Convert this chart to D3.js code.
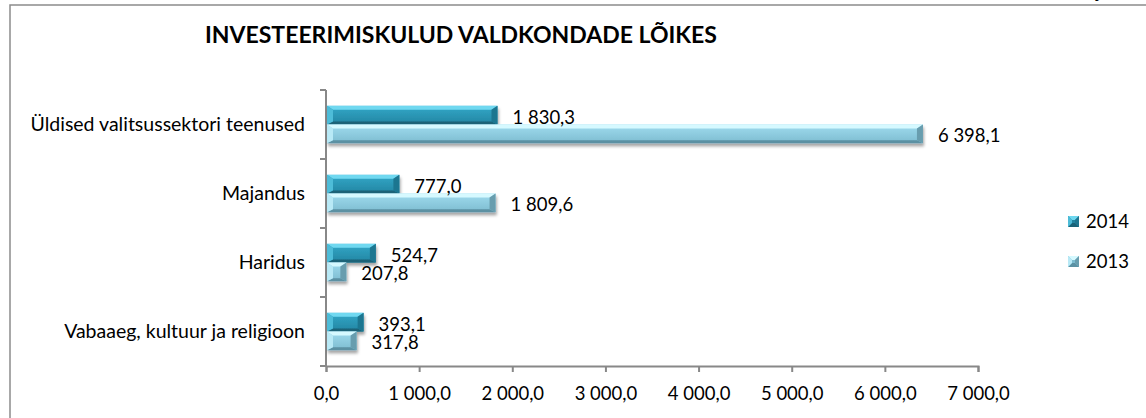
<!DOCTYPE html>
<html>
<head>
<meta charset="utf-8">
<script src="https://cdn.jsdelivr.net/npm/d3@7"></script>
<style>
  body { margin: 0; background: #fff; }
  text { font-family: Lato, "Open Sans", sans-serif; fill: #000; }
</style>
</head>
<body>
<div id="chart_area"></div>
<script>
// data
var categories = ["Üldised valitsussektori teenused", "Majandus", "Haridus", "Vabaaeg, kultuur ja religioon"];
var seriesNames = ["2014", "2013"];
var values2014 = [1830.3, 777.0, 524.7, 393.1];
var values2013 = [6398.1, 1809.6, 207.8, 317.8];
var xTicks = [0, 1000, 2000, 3000, 4000, 5000, 6000, 7000];
var title = "INVESTEERIMISKULUD VALDKONDADE LÕIKES";

var width = 1146, height = 418;

var et = d3.formatLocale({ decimal: ",", thousands: " ", grouping: [3], currency: ["", ""] });
var format = et.format(",.1f");

var svg = d3.select("#chart_area")
    .append("svg")
    .attr("width", width)
    .attr("height", height);

var defs = svg.append("defs");

// colours for each series: top, body gradient, bottom, left, right
var palette = {
    "2014": { top: "#6fd8f0", b1: "#33a8c8", b2: "#2385a2", bottom: "#1a6378", left: "#4dbcd8", right: "#1f7690" },
    "2013": { top: "#d6f9ff", b1: "#a0dcef", b2: "#7dbcd0", bottom: "#5b91a3", left: "#b8e9f6", right: "#689dae" }
};

seriesNames.forEach(function (s) {
    var g = defs.append("linearGradient")
        .attr("id", "grad" + s)
        .attr("x1", 0).attr("y1", 0).attr("x2", 0).attr("y2", 1);
    g.append("stop").attr("offset", "0%").attr("stop-color", palette[s].b1);
    g.append("stop").attr("offset", "100%").attr("stop-color", palette[s].b2);
});

var shadow = defs.append("filter").attr("id", "shadow")
    .attr("x", "-10%").attr("y", "-20%").attr("width", "130%").attr("height", "170%");
shadow.append("feDropShadow")
    .attr("dx", 1).attr("dy", 3).attr("stdDeviation", 1.8)
    .attr("flood-color", "#000").attr("flood-opacity", 0.35);

// chart frame (partly cut off by the picture)
svg.append("path")
    .attr("d", "M10,418V5H1146")
    .attr("fill", "none")
    .attr("stroke", "#8c8c8c")
    .attr("stroke-width", 1.5);

// descender of a text above the frame, cut off in the original too
svg.append("text")
    .attr("x", 1096).attr("y", -2)
    .style("font-size", "18px").style("font-weight", "bold")
    .text("j");

svg.append("text")
    .attr("x", 205).attr("y", 43)
    .style("font-size", "23px").style("font-weight", "bold")
    .text(title);

var x = d3.scaleLinear().domain([0, 7000]).range([326, 978]);

var y = d3.scaleBand()
    .domain(categories)
    .range([90, 366])
    .paddingInner(0.46)
    .paddingOuter(0.23);

var ySub = d3.scaleBand()
    .domain(seriesNames)
    .range([0, y.bandwidth()]);

// x axis
var xAxis = svg.append("g")
    .attr("transform", "translate(0,366)")
    .call(d3.axisBottom(x).tickValues(xTicks).tickSize(6).tickPadding(15).tickFormat(format));
xAxis.select(".domain").attr("stroke", "#888").attr("stroke-width", 2);
xAxis.selectAll(".tick line").attr("stroke", "#888").attr("stroke-width", 2);
xAxis.selectAll("text").style("font-size", "18.5px").attr("fill", "#000")
    .style("font-family", "Lato, sans-serif");

// y axis with tick marks between the categories
var boundaries = categories.map(function (c) { return y(c) - y.step() * y.paddingInner() / 2; });
boundaries.push(366);
var yAxis = svg.append("g");
yAxis.append("line")
    .attr("x1", 326).attr("x2", 326).attr("y1", 90).attr("y2", 366)
    .attr("stroke", "#888").attr("stroke-width", 2);
yAxis.selectAll("line.tk")
    .data(boundaries)
    .enter().append("line")
    .attr("class", "tk")
    .attr("x1", 320).attr("x2", 326)
    .attr("y1", function (d) { return d; })
    .attr("y2", function (d) { return d; })
    .attr("stroke", "#888").attr("stroke-width", 2);

svg.append("g")
    .selectAll("text")
    .data(categories)
    .enter().append("text")
    .attr("x", 305)
    .attr("y", function (d) { return y(d) + y.bandwidth() / 2; })
    .attr("dy", "0.35em")
    .attr("text-anchor", "end")
    .style("font-size", "19.5px")
    .text(function (d) { return d; });

// flatten the bars
var bars = [];
categories.forEach(function (c, i) {
    bars.push({ cat: c, series: "2014", value: values2014[i] });
    bars.push({ cat: c, series: "2013", value: values2013[i] });
});

function bevel(sel) {
    sel.each(function (d) {
        var g = d3.select(this);
        var w = x(d.value) - x(0), h = ySub.bandwidth();
        var p = palette[d.series];
        var s = Math.min(6, w / 2), t = 4, bt = 3;
        g.append("rect").attr("width", w).attr("height", h).attr("fill", "url(#grad" + d.series + ")");
        g.append("polygon").attr("points", [[0, 0], [w, 0], [w - s, t], [s, t]].join(" ")).attr("fill", p.top);
        g.append("polygon").attr("points", [[0, h], [w, h], [w - s, h - bt], [s, h - bt]].join(" ")).attr("fill", p.bottom);
        g.append("polygon").attr("points", [[0, 0], [s, t], [s, h - bt], [0, h]].join(" ")).attr("fill", p.left);
        g.append("polygon").attr("points", [[w, 0], [w - s, t], [w - s, h - bt], [w, h]].join(" ")).attr("fill", p.right);
    });
}

svg.append("g")
    .selectAll("g.bar")
    .data(bars)
    .enter().append("g")
    .attr("class", "bar")
    .attr("filter", "url(#shadow)")
    .attr("transform", function (d) { return "translate(" + (x(0) + 1) + "," + (y(d.cat) + ySub(d.series)) + ")"; })
    .call(bevel);

svg.append("g")
    .selectAll("text")
    .data(bars)
    .enter().append("text")
    .attr("x", function (d) { return x(d.value) + 16; })
    .attr("y", function (d) { return y(d.cat) + ySub(d.series) + ySub.bandwidth() / 2 + 2; })
    .attr("dy", "0.35em")
    .style("font-size", "18.5px")
    .text(function (d) { return format(d.value); });

// legend
var legend = svg.append("g")
    .selectAll("g")
    .data(seriesNames)
    .enter().append("g")
    .attr("transform", function (d, i) { return "translate(1068," + (216 + i * 40) + ")"; });
legend.append("g")
    .each(function (s) {
        var g = d3.select(this), p = palette[s], w = 11, h = 11, k = 4;
        g.append("rect").attr("width", w).attr("height", h).attr("fill", p.b2);
        g.append("polygon").attr("points", [[0, 0], [w, 0], [w - k, k], [k, k]].join(" ")).attr("fill", p.top);
        g.append("polygon").attr("points", [[0, h], [w, h], [w - k, h - k], [k, h - k]].join(" ")).attr("fill", p.bottom);
        g.append("polygon").attr("points", [[0, 0], [k, k], [k, h - k], [0, h]].join(" ")).attr("fill", p.left);
        g.append("polygon").attr("points", [[w, 0], [w - k, k], [w - k, h - k], [w, h]].join(" ")).attr("fill", p.right);
    });
legend.append("text")
    .attr("x", 18).attr("y", 5.5)
    .attr("dy", "0.35em")
    .style("font-size", "18.5px")
    .text(function (d) { return d; });
</script>
</body>
</html>
